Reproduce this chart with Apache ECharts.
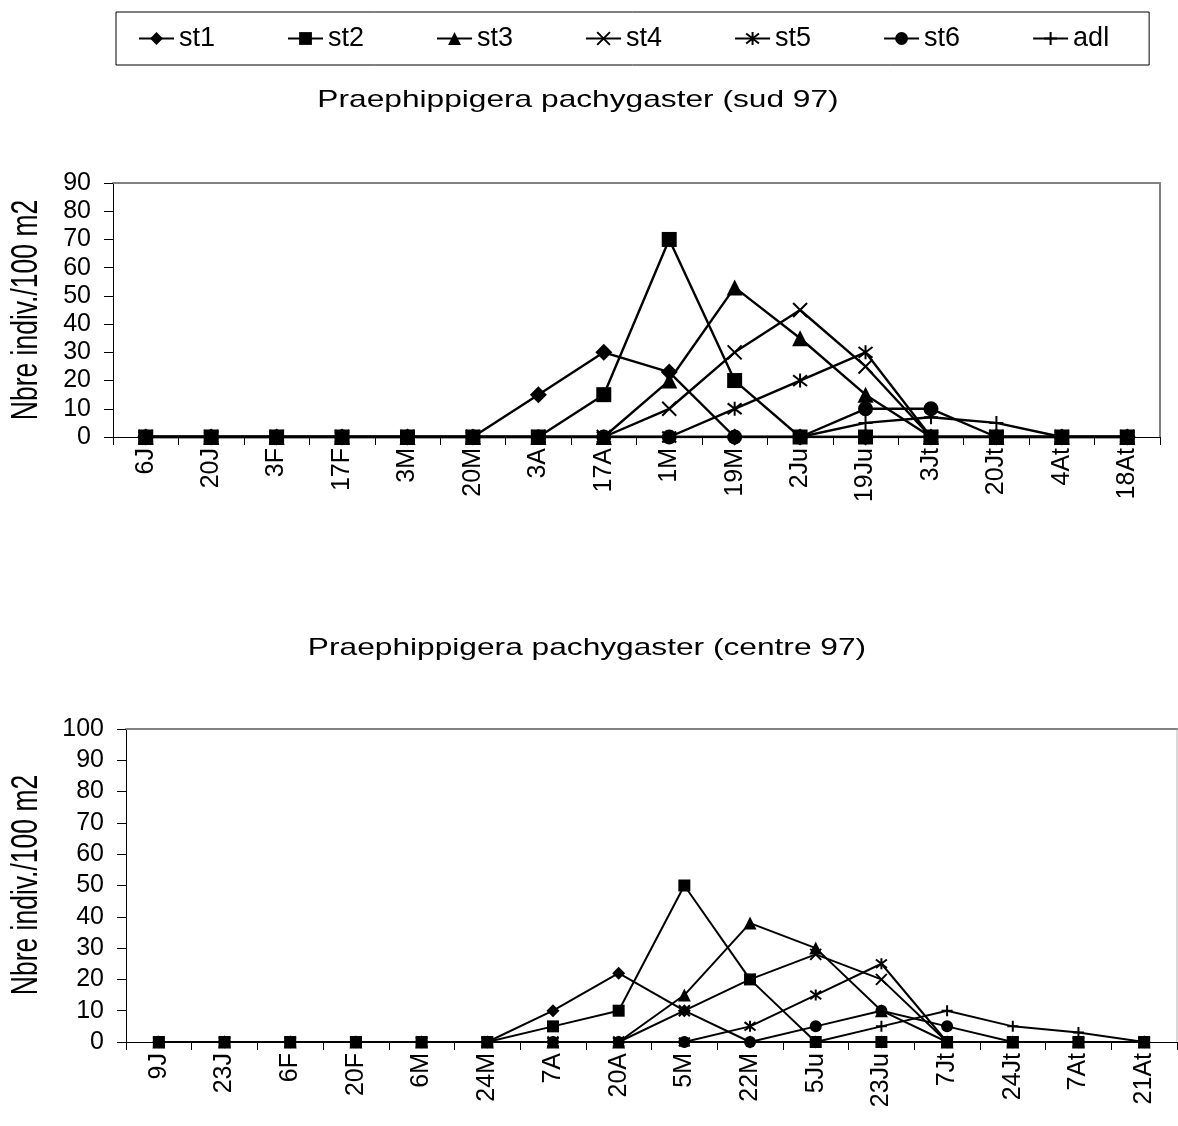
<!DOCTYPE html>
<html>
<head>
<meta charset="utf-8">
<script src="https://cdn.jsdelivr.net/npm/echarts@6/dist/echarts.min.js"></script>
<style>
  html, body { margin: 0; padding: 0; background: #fff; }
  #chart { width: 1178px; height: 1126px; }
</style>
</head>
<body>
<div id="chart"></div>
<script>
// Stage names shared by both panels
const stageNames = ['st1', 'st2', 'st3', 'st4', 'st5', 'st6', 'adl'];

// Panel 1: sud 97 sampling dates and densities (indiv./100 m2)
const sudDates = ['6J', '20J', '3F', '17F', '3M', '20M', '3A', '17A', '1M', '19M', '2Ju', '19Ju', '3Jt', '20Jt', '4At', '18At'];
const sudSt1 = [0, 0, 0, 0, 0, 0, 15, 30, 23, 0, 0, 0, 0, 0, 0, 0];
const sudSt2 = [0, 0, 0, 0, 0, 0, 0, 15, 70, 20, 0, 0, 0, 0, 0, 0];
const sudSt3 = [0, 0, 0, 0, 0, 0, 0, 0, 20, 53, 35, 15, 0, 0, 0, 0];
const sudSt4 = [0, 0, 0, 0, 0, 0, 0, 0, 10, 30, 45, 25, 0, 0, 0, 0];
const sudSt5 = [0, 0, 0, 0, 0, 0, 0, 0, 0, 10, 20, 30, 0, 0, 0, 0];
const sudSt6 = [0, 0, 0, 0, 0, 0, 0, 0, 0, 0, 0, 10, 10, 0, 0, 0];
const sudAdl = [0, 0, 0, 0, 0, 0, 0, 0, 0, 0, 0, 5, 7, 5, 0, 0];
const sudMax = 90;

// Panel 2: centre 97
const centreDates = ['9J', '23J', '6F', '20F', '6M', '24M', '7A', '20A', '5M', '22M', '5Ju', '23Ju', '7Jt', '24Jt', '7At', '21At'];
const centreSt1 = [0, 0, 0, 0, 0, 0, 10, 22, 10, 0, 0, 0, 0, 0, 0, 0];
const centreSt2 = [0, 0, 0, 0, 0, 0, 5, 10, 50, 20, 0, 0, 0, 0, 0, 0];
const centreSt3 = [0, 0, 0, 0, 0, 0, 0, 0, 15, 38, 30, 10, 0, 0, 0, 0];
const centreSt4 = [0, 0, 0, 0, 0, 0, 0, 0, 10, 20, 28, 20, 0, 0, 0, 0];
const centreSt5 = [0, 0, 0, 0, 0, 0, 0, 0, 0, 5, 15, 25, 0, 0, 0, 0];
const centreSt6 = [0, 0, 0, 0, 0, 0, 0, 0, 0, 0, 5, 10, 5, 0, 0, 0];
const centreAdl = [0, 0, 0, 0, 0, 0, 0, 0, 0, 0, 0, 5, 10, 5, 3, 0];
const centreMax = 100;

const yStep = 10;
const titleSud = 'Praephippigera pachygaster (sud 97)';
const titleCentre = 'Praephippigera pachygaster (centre 97)';
const yName = 'Nbre indiv./100 m2';

const FONT = '"Liberation Sans", Arial, Helvetica, sans-serif';

// Marker per stage (Excel-like black markers)
const markers = {
  st1: 'diamond',
  st2: 'rect',
  st3: 'triangle',
  st4: 'path://M0,0L10,10M10,0L0,10',
  st5: 'path://M0,0L10,10M10,0L0,10M5,-1.5L5,11.5',
  st6: 'circle',
  adl: 'path://M5,0L5,10M0,5L10,5'
};
const strokedMarkers = { st4: true, st5: true, adl: true };
const markerScale = { st1: 1.12, st2: 1, st3: 1.05, st4: 0.95, st5: 0.95, st6: 1, adl: 0.95 };

function stageSeries(name, data, axisIndex, size, width) {
  const stroked = !!strokedMarkers[name];
  return {
    name: name,
    type: 'line',
    xAxisIndex: axisIndex,
    yAxisIndex: axisIndex,
    data: data,
    symbol: markers[name],
    symbolSize: Math.round(size * markerScale[name]),
    showAllSymbol: true,
    animation: false,
    lineStyle: { color: '#000', width: width },
    itemStyle: {
      color: '#000',
      borderColor: '#000',
      borderWidth: stroked ? 2 : 0
    },
    emphasis: { disabled: true }
  };
}

const sudData = [sudSt1, sudSt2, sudSt3, sudSt4, sudSt5, sudSt6, sudAdl];
const centreData = [centreSt1, centreSt2, centreSt3, centreSt4, centreSt5, centreSt6, centreAdl];

const series = [];
stageNames.forEach((n, i) => series.push(stageSeries(n, sudData[i], 0, 15, 2.4)));
stageNames.forEach((n, i) => series.push(stageSeries(n, centreData[i], 2, 12, 2)));

function bottomAxis(grid, cats) {
  return {
    type: 'category', gridIndex: grid, data: cats, boundaryGap: true,
    axisLine: { show: true, onZero: false, lineStyle: { color: '#000', width: 1 } },
    axisTick: { show: true, interval: 0, length: 8, lineStyle: { color: '#000' } },
    axisLabel: { interval: 0, rotate: 90, margin: 11, color: '#000', fontFamily: FONT, fontSize: 25 },
    splitLine: { show: false }
  };
}
function borderX(grid, cats, color) {
  return {
    type: 'category', gridIndex: grid, data: cats, position: 'top',
    axisLine: { show: true, onZero: false, lineStyle: { color: color, width: 2 } },
    axisTick: { show: false }, axisLabel: { show: false }, splitLine: { show: false }
  };
}
function leftAxis(grid, max) {
  return {
    type: 'value', gridIndex: grid, min: 0, max: max, interval: yStep,
    axisLine: { show: true, onZero: false, lineStyle: { color: '#000', width: 1 } },
    axisTick: { show: true, length: 9, lineStyle: { color: '#000' } },
    axisLabel: { margin: 22, color: '#000', fontFamily: FONT, fontSize: 25 },
    splitLine: { show: false }
  };
}
function borderY(grid, max, color) {
  return {
    type: 'value', gridIndex: grid, min: 0, max: max, interval: yStep, position: 'right',
    axisLine: { show: true, onZero: false, lineStyle: { color: color, width: 2 } },
    axisTick: { show: false }, axisLabel: { show: false }, splitLine: { show: false }
  };
}

// Horizontally widened Arial-like heading text
function headText(text, x, y, size, stretch, rotate) {
  const el = {
    type: 'text', x: x, y: y, silent: true,
    style: { text: text, fill: '#000', font: size + 'px ' + FONT, textAlign: 'center', textVerticalAlign: 'middle' }
  };
  if (rotate) { el.rotation = Math.PI / 2; el.scaleY = stretch; }
  else { el.scaleX = stretch; }
  return el;
}

const chart = echarts.init(document.getElementById('chart'));
chart.setOption({
  backgroundColor: '#fff',
  animation: false,
  legend: {
    data: stageNames,
    left: 116, top: 12,
    orient: 'horizontal',
    itemWidth: 35, itemHeight: 16, itemGap: 72,
    padding: [13, 40, 13, 22],
    borderColor: '#000', borderWidth: 1,
    textStyle: { color: '#000', fontFamily: FONT, fontSize: 27 },
    selectedMode: false
  },
  grid: [
    { left: 113, top: 183, width: 1047, height: 254, containLabel: false },
    { left: 126, top: 729, width: 1051, height: 313, containLabel: false }
  ],
  xAxis: [
    bottomAxis(0, sudDates), borderX(0, sudDates, '#808080'),
    bottomAxis(1, centreDates), borderX(1, centreDates, '#808080')
  ],
  yAxis: [
    leftAxis(0, sudMax), borderY(0, sudMax, '#808080'),
    leftAxis(1, centreMax), borderY(1, centreMax, '#d8d8d8')
  ],
  graphic: [
    headText(titleSud, 578, 100, 24, 1.32),
    headText(titleCentre, 587, 648, 24, 1.32),
    headText(yName, 27, 310, 26.5, 1.4, true),
    headText(yName, 27, 885, 26.5, 1.4, true)
  ],
  series: series
});
</script>
</body>
</html>
